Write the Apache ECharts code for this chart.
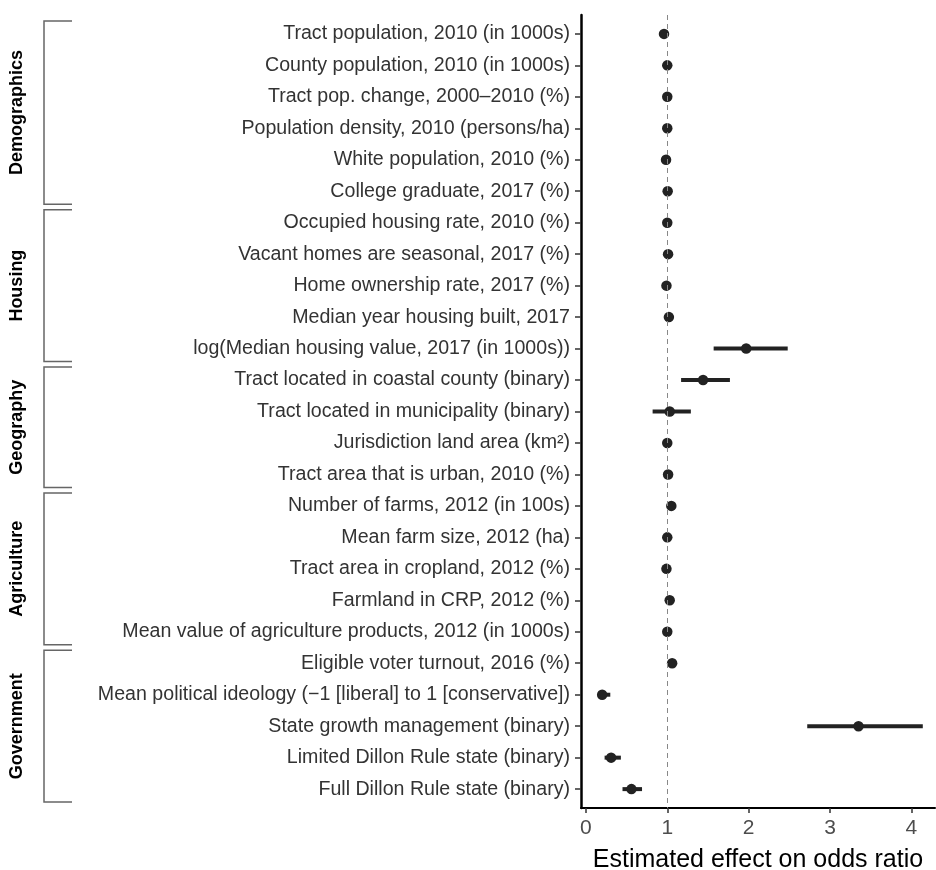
<!DOCTYPE html>
<html>
<head>
<meta charset="utf-8">
<script src="https://cdn.jsdelivr.net/npm/echarts@6/dist/echarts.min.js"></script>
<style>
  html, body { margin: 0; padding: 0; background: #fff; }
  #main { width: 936px; height: 870px; }
</style>
</head>
<body>
<div id="main"></div>
<script>
// predictors, top to bottom
var labels = [
  'Tract population, 2010 (in 1000s)',
  'County population, 2010 (in 1000s)',
  'Tract pop. change, 2000\u20132010 (%)',
  'Population density, 2010 (persons/ha)',
  'White population, 2010 (%)',
  'College graduate, 2017 (%)',
  'Occupied housing rate, 2010 (%)',
  'Vacant homes are seasonal, 2017 (%)',
  'Home ownership rate, 2017 (%)',
  'Median year housing built, 2017',
  'log(Median housing value, 2017 (in 1000s))',
  'Tract located in coastal county (binary)',
  'Tract located in municipality (binary)',
  'Jurisdiction land area (km\u00b2)',
  'Tract area that is urban, 2010 (%)',
  'Number of farms, 2012 (in 100s)',
  'Mean farm size, 2012 (ha)',
  'Tract area in cropland, 2012 (%)',
  'Farmland in CRP, 2012 (%)',
  'Mean value of agriculture products, 2012 (in 1000s)',
  'Eligible voter turnout, 2016 (%)',
  'Mean political ideology (\u22121 [liberal] to 1 [conservative])',
  'State growth management (binary)',
  'Limited Dillon Rule state (binary)',
  'Full Dillon Rule state (binary)'
];
var estimate = [0.96, 1.00, 1.00, 1.00, 0.985, 1.005, 1.00, 1.01, 0.99, 1.02, 1.97, 1.44, 1.03, 1.00, 1.01,
                1.05, 1.00, 0.99, 1.03, 1.00, 1.06, 0.20, 3.35, 0.31, 0.56];
var lower    = [0.95, 0.99, 0.99, 0.99, 0.975, 0.995, 0.99, 1.00, 0.98, 1.01, 1.57, 1.17, 0.82, 0.99, 1.00,
                1.04, 0.99, 0.98, 1.02, 0.99, 1.05, 0.15, 2.72, 0.23, 0.45];
var upper    = [0.97, 1.01, 1.01, 1.01, 0.995, 1.015, 1.01, 1.02, 1.00, 1.03, 2.48, 1.77, 1.29, 1.01, 1.02,
                1.06, 1.01, 1.00, 1.04, 1.01, 1.07, 0.30, 4.14, 0.43, 0.69];
var xTicks = [0, 1, 2, 3, 4];
var groupNames = ['Demographics', 'Housing', 'Geography', 'Agriculture', 'Government'];
var groupFirst = [0, 6, 11, 15, 20];
var groupLast  = [5, 10, 14, 19, 24];

var chart = echarts.init(document.getElementById('main'));

// rows are numbered 1..n from the top
var rows = [], points = [], bars = [];
for (var i = 0; i < labels.length; i++) {
  rows.push(i + 1);
  points.push([estimate[i], i + 1]);
  bars.push([lower[i], upper[i], i + 1]);
}

var font = 'Liberation Sans, Arial, Helvetica, sans-serif';

chart.setOption({
  backgroundColor: '#fff',
  animation: false,
  grid: { left: 581, right: 1, top: 15, bottom: 62, outerBoundsMode: 'none', containLabel: false },
  xAxis: {
    type: 'value',
    min: -0.06,
    max: 4.29,
    splitLine: { show: false },
    axisLine: { show: true, onZero: false, lineStyle: { color: '#000', width: 2 } },
    axisTick: { show: true, customValues: xTicks, length: 5, lineStyle: { color: '#333', width: 1.5 } },
    axisLabel: { customValues: xTicks, color: '#4d4d4d', fontSize: 21, fontFamily: font, margin: 10 },
    name: 'Estimated effect on odds ratio',
    nameLocation: 'middle',
    nameGap: 40,
    nameMoveOverlap: false,
    nameTextStyle: { color: '#000', fontSize: 25, fontFamily: font, verticalAlign: 'top' }
  },
  yAxis: {
    type: 'value',
    inverse: true,
    min: 0.4,
    max: labels.length + 0.6,
    splitLine: { show: false },
    axisLine: { show: true, onZero: false, lineStyle: { color: '#000', width: 2.5 } },
    axisTick: { show: true, customValues: rows, length: 6, lineStyle: { color: '#333', width: 1.5 } },
    axisLabel: {
      customValues: rows,
      color: '#333', fontSize: 19.6, fontFamily: font, margin: 11,
      formatter: function (v) { return labels[Math.round(v) - 1] || ''; }
    }
  },
  series: [
    {
      type: 'custom',
      data: bars,
      encode: { x: [0, 1], y: 2 },
      renderItem: function (params, api) {
        var a = api.coord([api.value(0), api.value(2)]);
        var b = api.coord([api.value(1), api.value(2)]);
        return {
          type: 'line',
          shape: { x1: a[0], y1: a[1], x2: b[0], y2: b[1] },
          style: { stroke: '#222', lineWidth: 4 }
        };
      },
      z: 3
    },
    {
      type: 'scatter',
      data: points,
      symbolSize: 10.5,
      itemStyle: { color: '#222', opacity: 1 },
      z: 4,
      markLine: {
        silent: true,
        symbol: 'none',
        label: { show: false },
        lineStyle: { color: '#888', type: [5, 4], width: 1 },
        data: [{ xAxis: 1 }]
      }
    }
  ]
});

// group brackets on the left
var graphics = [];
var half = 13;
for (var g = 0; g < groupNames.length; g++) {
  var y0 = chart.convertToPixel({ yAxisIndex: 0 }, groupFirst[g] + 1) - half;
  var y1 = chart.convertToPixel({ yAxisIndex: 0 }, groupLast[g] + 1) + half;
  graphics.push({
    type: 'polyline',
    shape: { points: [[72, y0], [44, y0], [44, y1], [72, y1]] },
    style: { stroke: '#666', lineWidth: 1.5, fill: null }
  });
  graphics.push({
    type: 'text',
    x: 17,
    y: (y0 + y1) / 2,
    rotation: Math.PI / 2,
    style: {
      text: groupNames[g],
      fill: '#000',
      font: 'bold 18px ' + font,
      align: 'center',
      verticalAlign: 'middle'
    }
  });
}
chart.setOption({ graphic: graphics });
</script>
</body>
</html>
